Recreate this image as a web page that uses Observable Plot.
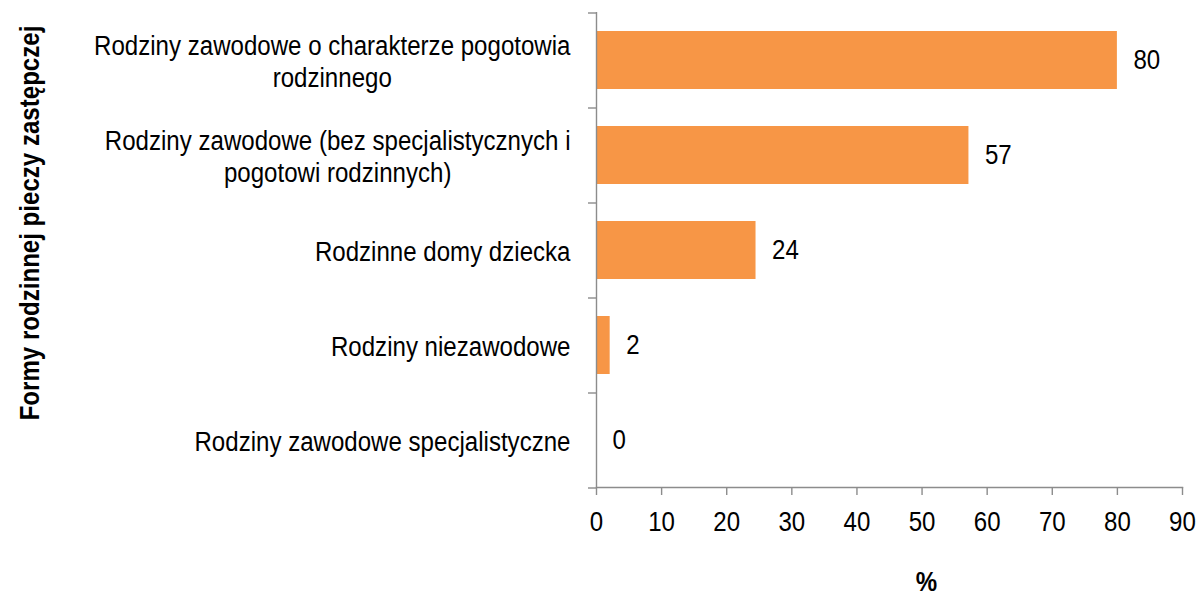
<!DOCTYPE html>
<html><head><meta charset="utf-8">
<script src="https://cdn.jsdelivr.net/npm/d3@7"></script>
<script src="https://cdn.jsdelivr.net/npm/@observablehq/plot@0.6"></script>
<style>html,body{margin:0;padding:0;background:#fff;overflow:hidden}</style>
</head><body><div id="chart"></div>
<script>
const categories = [
  "Rodziny zawodowe o charakterze pogotowia rodzinnego",
  "Rodziny zawodowe (bez specjalistycznych i pogotowi rodzinnych)",
  "Rodzinne domy dziecka",
  "Rodziny niezawodowe",
  "Rodziny zawodowe specjalistyczne"
];
const categoryLines = [
  ["Rodziny zawodowe o charakterze pogotowia", "rodzinnego"],
  ["Rodziny zawodowe (bez specjalistycznych i", "pogotowi rodzinnych)"],
  ["Rodzinne domy dziecka"],
  ["Rodziny niezawodowe"],
  ["Rodziny zawodowe specjalistyczne"]
];
const values = [80, 57.2, 24.5, 2.1, 0];
const valueLabels = ["80", "57", "24", "2", "0"];
const xTicks = [0, 10, 20, 30, 40, 50, 60, 70, 80, 90];
const yTitle = "Formy rodzinnej pieczy zastępczej";
const xTitle = "%";

const W = 1198, H = 597, MT = 12, MB = 110, ML = 596, MR = 16;
const FS = 28;          // font size
const SX = 0.86;        // horizontal compression to mimic a narrow face
const FONT = "'Liberation Sans', Arial, sans-serif";
const AXIS = "#8c8c8c";
const AW = 1.4;
const step = (H - MT - MB) / categories.length;
const data = categories.map((c, i) => ({category: c, value: values[i], label: valueLabels[i]}));
const labelOf = c => categoryLines[categories.indexOf(c)].join("\n");

const plot = Plot.plot({
  width: W, height: H,
  marginTop: MT, marginBottom: MB, marginLeft: ML, marginRight: MR,
  style: {fontFamily: FONT, fontSize: FS + "px", color: "#000", background: "#fff"},
  x: {domain: [0, 90], label: null},
  y: {domain: categories, paddingInner: 0.39, paddingOuter: 0.195, label: null},
  marks: [
    Plot.barX(data, {x: "value", y: "category", fill: "#F79646"}),
    Plot.text(data, {x: "value", y: "category", text: "label", textAnchor: "start", dx: 16, fontSize: FS, fill: "#000"}),
    Plot.ruleX([0], {stroke: AXIS, strokeWidth: AW}),
    Plot.frame({anchor: "bottom", stroke: AXIS, strokeWidth: AW}),
    Plot.axisX({ticks: xTicks, tickSize: 8, tickPadding: 16, stroke: AXIS, strokeWidth: AW, fontSize: FS, label: null}),
    Plot.axisY({ticks: categories, tickSize: 8, dy: -step / 2, stroke: AXIS, strokeWidth: AW, tickFormat: () => "", label: null}),
    Plot.axisY({ticks: [categories[categories.length - 1]], tickSize: 8, dy: step / 2, stroke: AXIS, strokeWidth: AW, tickFormat: () => "", label: null}),
    Plot.axisY({ticks: categories, tickSize: 0, tickPadding: 26, tickFormat: labelOf, fontSize: FS, lineHeight: 1.15, label: null}),
    Plot.text([yTitle], {frameAnchor: "left", rotate: -90, textAnchor: "middle", lineAnchor: "middle", dx: -566, dy: -27, fontWeight: "bold", fontSize: FS, fill: "#000"}),
    Plot.text([xTitle], {frameAnchor: "bottom", textAnchor: "middle", lineAnchor: "middle", dx: 37, dy: 95, fontWeight: "bold", fontSize: FS, fill: "#000"})
  ]
});
document.getElementById("chart").appendChild(plot);

plot.querySelectorAll("text").forEach(t => {
  // center wrapped lines of a category label relative to each other (block stays right-aligned)
  const spans = t.querySelectorAll("tspan");
  if (spans.length > 1 && getComputedStyle(t).textAnchor === "end") {
    const widths = Array.from(spans, s => s.getComputedTextLength());
    const maxW = Math.max(...widths);
    spans.forEach((s, i) => s.setAttribute("x", -(maxW - widths[i]) / 2));
  }
  // narrow the glyphs around each text's own anchor point
  const tr = t.getAttribute("transform") || "";
  t.setAttribute("transform", (tr + ` scale(${SX},1)`).trim());
});
</script>
</body></html>
